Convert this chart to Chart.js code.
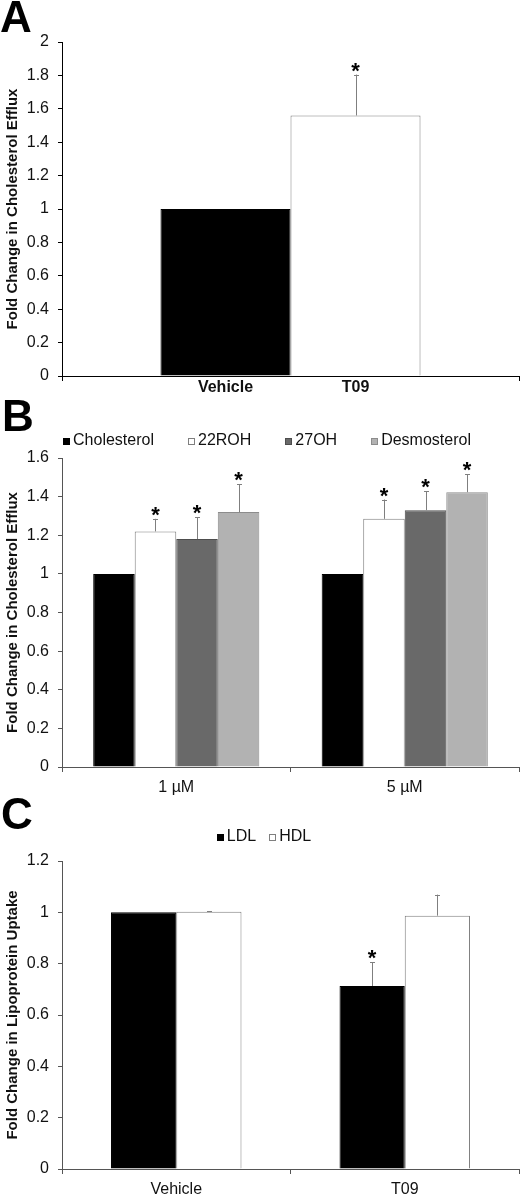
<!DOCTYPE html>
<html>
<head>
<meta charset="utf-8">
<script src="https://cdn.jsdelivr.net/npm/chart.js@4.4.1/dist/chart.umd.min.js"></script>
<style>
  body { margin: 0; background: #fff; }
  .panel { position: absolute; left: 0; width: 523px; height: 400px; }
  .letter { position: absolute; font: bold 44px 'Liberation Sans', Arial, sans-serif; line-height: 1; color: #000; }
</style>
</head>
<body>
<div class="panel" style="top:0"><canvas id="effluxT09" width="523" height="400"></canvas></div>
<div class="panel" style="top:400px"><canvas id="effluxSterols" width="523" height="400"></canvas></div>
<div class="panel" style="top:800px"><canvas id="lipoUptake" width="523" height="400"></canvas></div>
<div class="letter" style="left:0;top:-5px">A</div>
<div class="letter" style="left:2px;top:394px">B</div>
<div class="letter" style="left:1px;top:792px">C</div>

<script>
// --- panel A : efflux, vehicle vs T09
const aTreatments = ['Vehicle', 'T09'];
const aMeans = [1, 1.56];
const aErrors = [0, 0.245];
const aStars = [false, true];

// --- panel B : efflux with sterols at 2 doses
const bDoses = ['1 µM', '5 µM'];
const bCholesterol = [1, 1];
const b22ROH = [1.22, 1.285];
const b27OH = [1.18, 1.33];
const bDesmosterol = [1.32, 1.423];
const bErr22ROH = [0.065, 0.10];
const bErr27OH = [0.113, 0.097];
const bErrDesmosterol = [0.144, 0.093];

// --- panel C : lipoprotein uptake
const cTreatments = ['Vehicle', 'T09'];
const cLDL = [1, 0.713];
const cHDL = [1.002, 0.987];
const cErrLDL = [0, 0.092];
const cErrHDL = [0.003, 0.082];
const cStarsLDL = [false, true];

const FONT = "'Liberation Sans', Arial, sans-serif";
Chart.defaults.font.family = FONT;
Chart.defaults.color = '#111';
Chart.defaults.animation = false;

const fmt = v => String(Number(v.toFixed(1)));

// error bars (upper only) + significance stars
const errorBars = {
  id: 'errorBars',
  afterDatasetsDraw(chart) {
    const ctx = chart.ctx, y = chart.scales.y;
    ctx.save();
    chart.data.datasets.forEach((ds, i) => {
      if (!ds.errors) return;
      chart.getDatasetMeta(i).data.forEach((bar, j) => {
        const err = ds.errors[j];
        const top = y.getPixelForValue(ds.data[j] + err);
        if (err > 0) {
          const x = Math.round(bar.x) + 0.5;
          ctx.strokeStyle = '#7f7f7f';
          ctx.lineWidth = 1;
          ctx.beginPath();
          ctx.moveTo(x, bar.y);
          ctx.lineTo(x, top);
          ctx.moveTo(x - 2.5, Math.round(top) + 0.5);
          ctx.lineTo(x + 2.5, Math.round(top) + 0.5);
          ctx.stroke();
        }
        if (ds.stars && ds.stars[j]) {
          ctx.font = 'bold 22px ' + FONT;
          ctx.textAlign = 'center';
          ctx.textBaseline = 'alphabetic';
          ctx.fillStyle = '#000';
          const m = ctx.measureText('*');
          ctx.fillText('*', bar.x, top - 3 - m.actualBoundingBoxDescent);
        }
      });
    });
    ctx.restore();
  }
};

// small square legend like excel
function boxLegend(yc, cx, gap) {
  return {
    id: 'boxLegend',
    afterDraw(chart) {
      const ctx = chart.ctx;
      ctx.save();
      ctx.font = '16px ' + FONT;
      ctx.textBaseline = 'middle';
      ctx.textAlign = 'left';
      const items = chart.data.datasets.map(ds => ({ ds, w: 6 + 4 + ctx.measureText(ds.label).width }));
      const total = items.reduce((s, it) => s + it.w, 0) + gap * (items.length - 1);
      let x = cx - total / 2;
      items.forEach(it => {
        const bx = Math.round(x) + 0.5, by = Math.round(yc - 3) + 0.5;
        ctx.fillStyle = it.ds.backgroundColor;
        ctx.fillRect(bx, by, 6, 6);
        ctx.strokeStyle = it.ds.borderColor;
        ctx.lineWidth = 1;
        ctx.strokeRect(bx, by, 6, 6);
        ctx.fillStyle = '#111';
        ctx.fillText(it.ds.label, x + 10, yc);
        x += it.w + gap;
      });
      ctx.restore();
    }
  };
}

// labels under each bar (panel A has one group)
const barNames = {
  id: 'barNames',
  afterDraw(chart) {
    const ctx = chart.ctx;
    ctx.save();
    ctx.font = 'bold 16px ' + FONT;
    ctx.textAlign = 'center';
    ctx.textBaseline = 'middle';
    ctx.fillStyle = '#111';
    chart.data.datasets.forEach((ds, i) => {
      const bar = chart.getDatasetMeta(i).data[0];
      ctx.fillText(ds.label, bar.x, chart.chartArea.bottom + 12);
    });
    ctx.restore();
  }
};

function axes(max, title, axisColor, xHeight) {
  return {
    x: {
      grid: { drawOnChartArea: false, tickLength: 5, color: axisColor },
      border: { color: axisColor },
      ticks: { font: { size: 16 }, color: '#111', padding: 6 },
      afterFit: s => { s.height = xHeight; }
    },
    y: {
      min: 0, max: max,
      ticks: { stepSize: 0.2, font: { size: 16 }, color: '#111', padding: 9, callback: fmt },
      grid: { drawOnChartArea: false, tickLength: 4, color: axisColor },
      border: { color: axisColor },
      title: { display: true, text: title, font: { size: 15, weight: 'bold' }, color: '#111', padding: { top: 4, bottom: 0 } },
      afterFit: s => { s.width = 62; }
    }
  };
}

const white = { backgroundColor: '#ffffff', borderColor: '#7f7f7f', borderWidth: 1 };
const black = { backgroundColor: '#000000', borderColor: '#000000', borderWidth: 1 };

// A
new Chart(document.getElementById('effluxT09'), {
  type: 'bar',
  data: {
    labels: [''],
    datasets: aTreatments.map((t, i) => Object.assign({
      label: t,
      data: [aMeans[i]],
      errors: [aErrors[i]],
      stars: [aStars[i]],
      barPercentage: 1,
      categoryPercentage: 0.569
    }, i === 0 ? black : white))
  },
  options: {
    responsive: false,
    events: [],
    layout: { padding: { top: 42, right: 4, left: 0, bottom: 0 } },
    plugins: { legend: { display: false }, tooltip: { enabled: false } },
    scales: axes(2, 'Fold Change in Cholesterol Efflux', '#000', 24)
  },
  plugins: [errorBars, barNames]
});

// B
new Chart(document.getElementById('effluxSterols'), {
  type: 'bar',
  data: {
    labels: bDoses,
    datasets: [
      Object.assign({ label: 'Cholesterol', data: bCholesterol }, black),
      Object.assign({ label: '22ROH', data: b22ROH, errors: bErr22ROH, stars: [true, true] }, white),
      { label: '27OH', data: b27OH, errors: bErr27OH, stars: [true, true], backgroundColor: '#696969', borderColor: '#4d4d4d', borderWidth: 1 },
      { label: 'Desmosterol', data: bDesmosterol, errors: bErrDesmosterol, stars: [true, true], backgroundColor: '#b2b2b2', borderColor: '#8c8c8c', borderWidth: 1 }
    ].map(d => Object.assign(d, { barPercentage: 1, categoryPercentage: 0.727 }))
  },
  options: {
    responsive: false,
    events: [],
    layout: { padding: { top: 58, right: 4, left: 0, bottom: 0 } },
    plugins: { legend: { display: false }, tooltip: { enabled: false } },
    scales: axes(1.6, 'Fold Change in Cholesterol Efflux', '#555', 33)
  },
  plugins: [errorBars, boxLegend(41, 267, 34)]
});

// C
new Chart(document.getElementById('lipoUptake'), {
  type: 'bar',
  data: {
    labels: cTreatments,
    datasets: [
      Object.assign({ label: 'LDL', data: cLDL, errors: cErrLDL, stars: cStarsLDL }, black),
      Object.assign({ label: 'HDL', data: cHDL, errors: cErrHDL }, white)
    ].map(d => Object.assign(d, { barPercentage: 1, categoryPercentage: 0.571 }))
  },
  options: {
    responsive: false,
    events: [],
    layout: { padding: { top: 61, right: 4, left: 0, bottom: 0 } },
    plugins: { legend: { display: false }, tooltip: { enabled: false } },
    scales: axes(1.2, 'Fold Change in Lipoprotein Uptake', '#555', 31)
  },
  plugins: [errorBars, boxLegend(37, 264, 13)]
});
</script>
</body>
</html>
